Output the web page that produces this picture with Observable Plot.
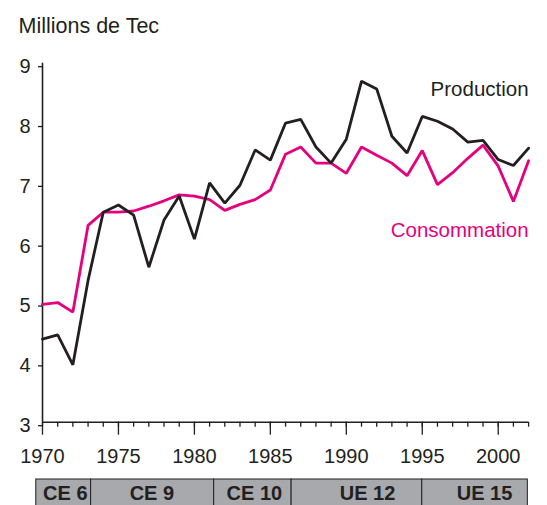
<!DOCTYPE html>
<html>
<head>
<meta charset="utf-8">
<script src="https://cdn.jsdelivr.net/npm/d3@7"></script>
<script src="https://cdn.jsdelivr.net/npm/@observablehq/plot@0.6"></script>
<style>
  html, body { margin: 0; padding: 0; background: #fff; overflow: hidden; }
  svg { display: block; }
</style>
</head>
<body>
<div id="chart"></div>
<script>
// ---- data ----
const years = d3.range(1970, 2003);
const production = [4.39, 4.46, 3.96, 5.37, 6.51, 6.63, 6.46, 5.59, 6.38, 6.78,
  6.06, 7.0, 6.66, 6.96, 7.55, 7.38, 8.0, 8.06, 7.6, 7.33,
  7.73, 8.7, 8.57, 7.78, 7.5, 8.11, 8.03, 7.9, 7.68, 7.71,
  7.39, 7.29, 7.58];
const consommation = [4.97, 5.0, 4.84, 6.29, 6.51, 6.51, 6.53, 6.61, 6.7, 6.8,
  6.78, 6.72, 6.54, 6.64, 6.72, 6.88, 7.48, 7.6, 7.33, 7.33,
  7.16, 7.6, 7.46, 7.33, 7.12, 7.54, 6.97, 7.17, 7.41, 7.63,
  7.28, 6.69, 7.37];
const yTicks = [3, 4, 5, 6, 7, 8, 9];
const xMajorTicks = [1970, 1975, 1980, 1985, 1990, 1995, 2000];
const seriesNames = ["Production", "Consommation"];
const seriesLabelYear = [2002, 2002];
const seriesLabelValue = [8.46, 6.09];
const periodNames = ["CE 6", "CE 9", "CE 10", "UE 12", "UE 15"];
const periodStart = [1969.59, 1973.2, 1981.3, 1986.4, 1995.0];
const periodEnd = [1973.2, 1981.3, 1986.4, 1995.0, 2001.95];
const periodLabelYear = [1971.5, 1977.2, 1983.95, 1991.4, 1999.1];
const title = "Millions de Tec";

// ---- styles ----
const BLACK = "#231f20";
const MAGENTA = "#e5007e";
const FONT = "'Liberation Sans', Arial, Helvetica, sans-serif";

const rows = [];
years.forEach((yr, i) => {
  rows.push({year: yr, value: production[i], series: seriesNames[0]});
});
years.forEach((yr, i) => {
  rows.push({year: yr, value: consommation[i], series: seriesNames[1]});
});
const labels = seriesNames.map((s, i) => ({name: s, year: seriesLabelYear[i], value: seriesLabelValue[i]}));
const periods = periodNames.map((n, i) => ({name: n, x1: periodStart[i], x2: periodEnd[i], lx: periodLabelYear[i]}));

const W = 547;
const mLeft = 42, mRight = 18.9;

const main = Plot.plot({
  width: W,
  height: 470,
  marginLeft: mLeft,
  marginRight: mRight,
  marginTop: 62.7,
  marginBottom: 48.3,
  style: {fontFamily: FONT, fontSize: "20px", color: BLACK, background: "#fff", overflow: "visible"},
  x: {domain: [1970, 2002], axis: null},
  y: {domain: [3, 9], axis: null},
  marks: [
    Plot.text([title], {frameAnchor: "top-left", textAnchor: "start", lineAnchor: "bottom", dx: -24, dy: -30.5, fontSize: 21.5, fill: BLACK}),
    Plot.axisY({ticks: yTicks, tickSize: 4, tickPadding: 8, dy: 3.5, tickFormat: d => String(d), label: null, stroke: BLACK, fill: BLACK, strokeWidth: 1.3}),
    Plot.axisX({ticks: years, tickSize: 5, tickFormat: () => "", label: null, stroke: BLACK, strokeWidth: 1.3}),
    Plot.axisX({ticks: xMajorTicks, tickSize: 13, tickPadding: 14, tickFormat: d => String(d), label: null, stroke: BLACK, fill: BLACK, strokeWidth: 1.3}),
    Plot.ruleY([3], {stroke: BLACK, strokeWidth: 1.6}),
    Plot.ruleX([1970], {stroke: BLACK, strokeWidth: 1.6}),
    Plot.line(rows.filter(d => d.series === seriesNames[1]), {x: "year", y: "value", stroke: MAGENTA, strokeWidth: 2.8, strokeLinejoin: "miter"}),
    Plot.line(rows.filter(d => d.series === seriesNames[0]), {x: "year", y: "value", stroke: BLACK, strokeWidth: 2.8, strokeLinejoin: "miter"}),
    Plot.text(labels, {x: "year", y: "value", text: "name", textAnchor: "end", lineAnchor: "bottom", fontSize: 20.5,
      fill: d => d.name === seriesNames[0] ? BLACK : MAGENTA})
  ]
});

const strip = Plot.plot({
  width: W,
  height: 45,
  marginLeft: mLeft,
  marginRight: mRight,
  marginTop: 9,
  marginBottom: 0,
  style: {fontFamily: FONT, fontSize: "20px", background: "#fff", overflow: "visible"},
  x: {domain: [1970, 2002], axis: null},
  y: {axis: null},
  marks: [
    Plot.rect(periods, {x1: "x1", x2: "x2", fill: "#a7a9ac", stroke: BLACK, strokeWidth: 1}),
    Plot.text(periods, {x: "lx", text: "name", frameAnchor: "top", lineAnchor: "bottom", dy: 20.5, fontWeight: "bold", fontSize: 20, fill: BLACK})
  ]
});

const el = document.getElementById("chart");
el.appendChild(main);
el.appendChild(strip);
</script>
</body>
</html>
